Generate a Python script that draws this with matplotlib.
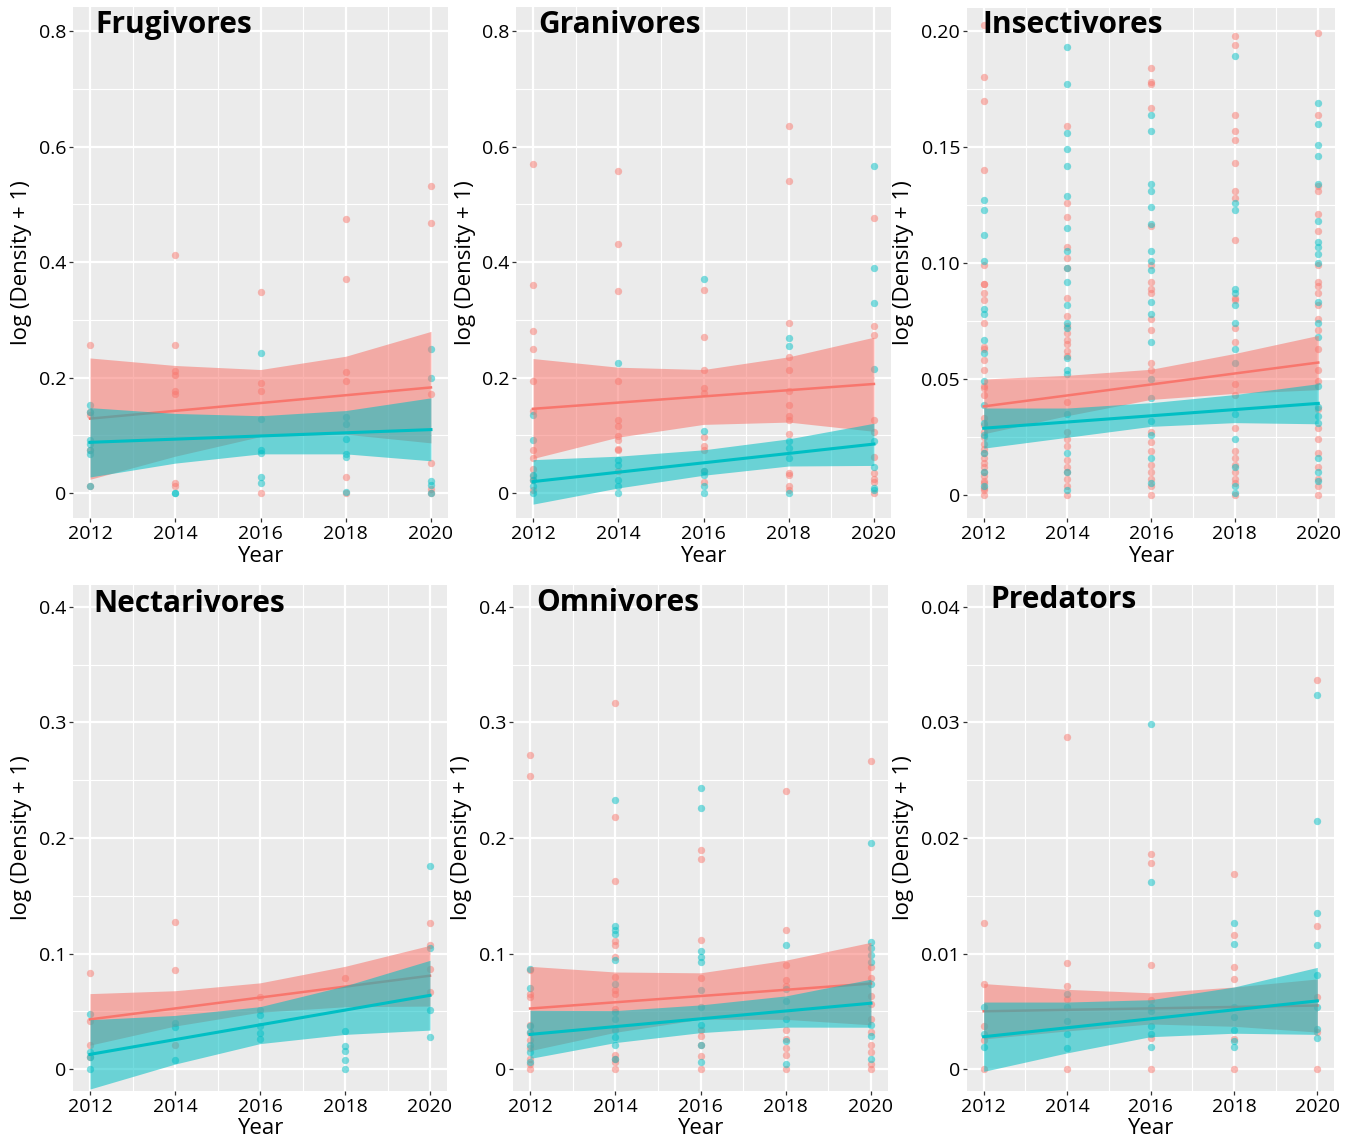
import matplotlib
matplotlib.use('Agg')
import matplotlib.pyplot as plt

plt.rcParams['font.family'] = ['Open Sans', 'DejaVu Sans']

RED = '#F8766D'
CYAN = '#00BFC4'
years = [2012, 2014, 2016, 2018, 2020]

titles = ['Frugivores', 'Granivores', 'Insectivores',
          'Nectarivores', 'Omnivores', 'Predators']

# observed points, per panel: {year: values}
fru_red = {2012: [0.256, 0.14, 0.135, 0.075, 0.012],
           2014: [0.413, 0.257, 0.212, 0.204, 0.177, 0.171, 0.018, 0.013],
           2016: [0.349, 0.19, 0.177, 0.0],
           2018: [0.474, 0.371, 0.209, 0.195, 0.028, 0.0],
           2020: [0.532, 0.468, 0.171, 0.052, 0.008, 0.0]}
fru_cyan = {2012: [0.152, 0.14, 0.092, 0.085, 0.075, 0.068, 0.012],
            2014: [0.0, 0.0],
            2016: [0.243, 0.129, 0.074, 0.07, 0.028, 0.018],
            2018: [0.132, 0.119, 0.094, 0.068, 0.063, 0.002],
            2020: [0.25, 0.2, 0.021, 0.014, 0.0]}

gra_red = {2012: [0.569, 0.36, 0.28, 0.25, 0.194, 0.143, 0.074, 0.061, 0.042, 0.03, 0.023, 0.006],
           2014: [0.558, 0.431, 0.35, 0.194, 0.127, 0.116, 0.099, 0.092, 0.077, 0.074, 0.038],
           2016: [0.352, 0.27, 0.214, 0.182, 0.173, 0.097, 0.082, 0.075, 0.038, 0.019],
           2018: [0.635, 0.54, 0.294, 0.236, 0.214, 0.176, 0.152, 0.133, 0.126, 0.102, 0.035, 0.031, 0.013, 0.006],
           2020: [0.477, 0.289, 0.274, 0.127, 0.106, 0.063, 0.035, 0.025, 0.019, 0.0]}
gra_cyan = {2012: [0.135, 0.092, 0.031, 0.023, 0.013, 0.001],
            2014: [0.226, 0.057, 0.048, 0.022, 0.013, 0.0],
            2016: [0.37, 0.107, 0.038, 0.031, 0.013, 0.0],
            2018: [0.269, 0.255, 0.091, 0.079, 0.06, 0.0],
            2020: [0.567, 0.389, 0.33, 0.215, 0.091, 0.045, 0.009, 0.005]}

ins_red = {2012: [0.2025, 0.18, 0.17, 0.14, 0.099, 0.091, 0.091, 0.087, 0.084, 0.074, 0.064, 0.063,
                  0.058, 0.054, 0.047, 0.046, 0.043, 0.033, 0.03, 0.027, 0.025, 0.022, 0.02, 0.018,
                  0.016, 0.014, 0.012, 0.01, 0.008, 0.006, 0.005, 0.003, 0.002, 0.0],
           2014: [0.159, 0.126, 0.12, 0.107, 0.102, 0.098, 0.085, 0.077, 0.073, 0.07, 0.067, 0.065,
                  0.062, 0.06, 0.04, 0.027, 0.024, 0.021, 0.015, 0.012, 0.01, 0.007, 0.004, 0.0],
           2016: [0.184, 0.178, 0.177, 0.167, 0.116, 0.099, 0.092, 0.089, 0.087, 0.076, 0.071, 0.057,
                  0.054, 0.027, 0.023, 0.019, 0.013, 0.01, 0.007, 0.004, 0.0],
           2018: [0.198, 0.194, 0.164, 0.157, 0.153, 0.143, 0.131, 0.128, 0.11, 0.085, 0.084, 0.072,
                  0.066, 0.048, 0.043, 0.029, 0.019, 0.016, 0.013, 0.01, 0.007, 0.005, 0.0],
           2020: [0.199, 0.164, 0.133, 0.131, 0.121, 0.114, 0.099, 0.092, 0.09, 0.087, 0.082, 0.076,
                  0.071, 0.063, 0.054, 0.049, 0.037, 0.029, 0.024, 0.018, 0.012, 0.007, 0.004, 0.0]}
ins_cyan = {2012: [0.127, 0.123, 0.112, 0.101, 0.08, 0.078, 0.067, 0.061, 0.049, 0.039, 0.031,
                   0.026, 0.018, 0.01, 0.004],
            2014: [0.193, 0.177, 0.156, 0.149, 0.142, 0.129, 0.115, 0.105, 0.098, 0.092, 0.082,
                   0.074, 0.072, 0.059, 0.054, 0.052, 0.035, 0.018, 0.01, 0.002],
            2016: [0.164, 0.157, 0.134, 0.131, 0.124, 0.117, 0.105, 0.101, 0.097, 0.083, 0.078,
                   0.066, 0.05, 0.042, 0.032, 0.026, 0.016, 0.005],
            2018: [0.189, 0.126, 0.123, 0.089, 0.087, 0.082, 0.074, 0.063, 0.057, 0.035, 0.024,
                   0.012, 0.004, 0.001],
            2020: [0.169, 0.16, 0.151, 0.146, 0.134, 0.118, 0.109, 0.107, 0.104, 0.1, 0.083, 0.074,
                   0.068, 0.047, 0.038, 0.034, 0.031, 0.016, 0.01, 0.006]}

nec_red = {2012: [0.083, 0.042, 0.021, 0.01],
           2014: [0.127, 0.086, 0.021],
           2016: [0.062],
           2018: [0.079],
           2020: [0.126, 0.107, 0.087, 0.067]}
nec_cyan = {2012: [0.048, 0.015, 0.01, 0.0],
            2014: [0.04, 0.036, 0.008],
            2016: [0.051, 0.047, 0.037, 0.031, 0.026],
            2018: [0.033, 0.02, 0.016, 0.008, 0.0],
            2020: [0.176, 0.105, 0.051, 0.028]}

omn_red = {2012: [0.272, 0.254, 0.086, 0.065, 0.062, 0.038, 0.031, 0.025, 0.018, 0.009, 0.004, 0.0],
           2014: [0.317, 0.218, 0.163, 0.111, 0.107, 0.097, 0.08, 0.068, 0.065, 0.052, 0.012, 0.009,
                  0.006, 0.0],
           2016: [0.19, 0.182, 0.112, 0.079, 0.034, 0.029, 0.021, 0.011, 0.0],
           2018: [0.241, 0.12, 0.09, 0.077, 0.072, 0.034, 0.026, 0.018, 0.012, 0.0],
           2020: [0.267, 0.088, 0.079, 0.063, 0.056, 0.043, 0.032, 0.021, 0.015, 0.004, 0.0]}
omn_cyan = {2012: [0.087, 0.07, 0.037, 0.032, 0.021, 0.015, 0.006],
            2014: [0.233, 0.124, 0.12, 0.117, 0.094, 0.074, 0.049, 0.043, 0.034, 0.028, 0.021, 0.009],
            2016: [0.243, 0.226, 0.102, 0.097, 0.093, 0.068, 0.054, 0.038, 0.021, 0.006],
            2018: [0.107, 0.069, 0.059, 0.043, 0.024, 0.004],
            2020: [0.196, 0.11, 0.105, 0.099, 0.093, 0.074, 0.038, 0.029, 0.009]}

pre_red = {2012: [0.0126, 0.0074, 0.0037, 0.0025, 0.0],
           2014: [0.0287, 0.0092, 0.0072, 0.0061, 0.0],
           2016: [0.0186, 0.0178, 0.009, 0.006, 0.0027, 0.0],
           2018: [0.0169, 0.0116, 0.0088, 0.0078, 0.0026, 0.0],
           2020: [0.0337, 0.0124, 0.0062, 0.0032, 0.0]}
pre_cyan = {2012: [0.0054, 0.003, 0.0019],
            2014: [0.0065, 0.0054, 0.0042, 0.003, 0.0018],
            2016: [0.0299, 0.0162, 0.0054, 0.005, 0.0037, 0.003, 0.0019],
            2018: [0.0126, 0.0108, 0.0054, 0.0045, 0.0034, 0.0024, 0.0019],
            2020: [0.0324, 0.0215, 0.0135, 0.0107, 0.0081, 0.0054, 0.0035, 0.0027]}

# fitted lines (value at 2012, 2020) and confidence bands at the five years
fit_red = [(0.129, 0.183), (0.146, 0.189), (0.0382, 0.0571),
           (0.043, 0.0808), (0.0524, 0.074), (0.005, 0.0055)]
fit_cyan = [(0.088, 0.11), (0.02, 0.085), (0.0288, 0.0395),
            (0.0127, 0.0638), (0.03, 0.057), (0.0028, 0.0059)]
band_red_hi = [[0.234, 0.221, 0.214, 0.237, 0.28],
               [0.233, 0.218, 0.214, 0.236, 0.27],
               [0.05, 0.0516, 0.0542, 0.061, 0.0688],
               [0.0653, 0.0678, 0.0746, 0.0889, 0.1071],
               [0.0889, 0.084, 0.0833, 0.0942, 0.1097],
               [0.0074, 0.0069, 0.0066, 0.0071, 0.0078]]
band_red_lo = [[0.024, 0.064, 0.098, 0.102, 0.087],
               [0.06, 0.097, 0.119, 0.123, 0.107],
               [0.0264, 0.0342, 0.0412, 0.0438, 0.0454],
               [0.0207, 0.0372, 0.0492, 0.0539, 0.0545],
               [0.0159, 0.0318, 0.0431, 0.043, 0.0383],
               [0.0026, 0.0033, 0.0039, 0.0037, 0.0032]]
band_cyan_hi = [[0.148, 0.138, 0.134, 0.143, 0.165],
                [0.058, 0.064, 0.075, 0.094, 0.121],
                [0.0375, 0.0375, 0.0398, 0.0433, 0.048],
                [0.0427, 0.0464, 0.054, 0.072, 0.0941],
                [0.0508, 0.0506, 0.0555, 0.0633, 0.0778],
                [0.0058, 0.0058, 0.006, 0.0071, 0.0088]]
band_cyan_lo = [[0.028, 0.052, 0.068, 0.068, 0.056],
                [-0.019, 0.009, 0.031, 0.047, 0.048],
                [0.0202, 0.0249, 0.0296, 0.0312, 0.0307],
                [-0.0173, 0.0043, 0.022, 0.03, 0.0337],
                [0.0092, 0.0229, 0.0315, 0.0363, 0.0362],
                [-0.0002, 0.0014, 0.0028, 0.0031, 0.003]]

points_red = [fru_red, gra_red, ins_red, nec_red, omn_red, pre_red]
points_cyan = [fru_cyan, gra_cyan, ins_cyan, nec_cyan, omn_cyan, pre_cyan]

y_ticks = [[0, 0.2, 0.4, 0.6, 0.8], [0, 0.2, 0.4, 0.6, 0.8], [0, 0.05, 0.10, 0.15, 0.20],
           [0, 0.1, 0.2, 0.3, 0.4], [0, 0.1, 0.2, 0.3, 0.4], [0, 0.01, 0.02, 0.03, 0.04]]
y_labels = [['0', '0.2', '0.4', '0.6', '0.8'], ['0', '0.2', '0.4', '0.6', '0.8'],
            ['0', '0.05', '0.10', '0.15', '0.20'], ['0', '0.1', '0.2', '0.3', '0.4'],
            ['0', '0.1', '0.2', '0.3', '0.4'], ['0', '0.01', '0.02', '0.03', '0.04']]
y_lims = [(-0.043, 0.8415), (-0.043, 0.8415), (-0.0099, 0.2099),
          (-0.019, 0.419), (-0.019, 0.419), (-0.0019, 0.0419)]

# panel boxes in pixels: left, top, right, bottom
boxes = [(73, 7, 448, 518), (516, 7, 891, 518), (967, 8, 1335, 518),
         (73, 585, 447, 1091), (513, 585, 888, 1091), (967, 585, 1334, 1091)]
title_pos = [(95, 25), (538, 25), (982, 25), (93, 604), (536, 603), (990, 600)]
ylab_x = [22, 466, 904, 22, 462, 904]

W, H = 1354, 1141
fig = plt.figure(figsize=(W / 100, H / 100), dpi=100)

for i in range(6):
    l, t, r, b = boxes[i]
    ax = fig.add_axes([l / W, 1 - b / H, (r - l) / W, (b - t) / H])
    ax.set_facecolor('#EBEBEB')
    for s in ax.spines.values():
        s.set_visible(False)
    ax.set_xlim(2011.6, 2020.4)
    ax.set_ylim(*y_lims[i])
    ax.set_xticks(years)
    ax.set_xticklabels([str(y) for y in years], fontsize=14, color='black')
    ax.set_xticks([2013, 2015, 2017, 2019], minor=True)
    yt = y_ticks[i]
    ax.set_yticks(yt)
    ax.set_yticklabels(y_labels[i], fontsize=14, color='black')
    ax.set_yticks([(yt[k] + yt[k + 1]) / 2 for k in range(4)], minor=True)
    ax.grid(which='major', color='white', lw=1.6)
    ax.grid(which='minor', color='white', lw=0.8)
    ax.set_axisbelow(True)
    ax.tick_params(which='major', length=3, width=0.9, color='#333333', pad=2)
    ax.tick_params(which='minor', length=0)

    for pts, col in ((points_red[i], RED), (points_cyan[i], CYAN)):
        xs, ys = [], []
        for yr, vals in pts.items():
            xs += [yr] * len(vals)
            ys += vals
        ax.scatter(xs, ys, s=28, color=col, alpha=0.5, lw=0, zorder=2)

    ax.fill_between(years, band_red_lo[i], band_red_hi[i], color=RED, alpha=0.55, lw=0, zorder=3)
    ax.plot([2012, 2020], fit_red[i], color=RED, lw=1.8, zorder=3)
    ax.fill_between(years, band_cyan_lo[i], band_cyan_hi[i], color=CYAN, alpha=0.55, lw=0, zorder=4)
    ax.plot([2012, 2020], fit_cyan[i], color=CYAN, lw=2.2, zorder=4)

    tx, ty = title_pos[i]
    fig.text(tx / W, 1 - ty / H, titles[i], fontsize=21.5, fontweight='bold', va='center', ha='left')
    fig.text((l + r) / 2 / W, 1 - (b + 38) / H, 'Year', fontsize=16, ha='center', va='center')
    fig.text(ylab_x[i] / W, 1 - (t + b) / 2 / H, 'log (Density + 1)', fontsize=16,
             rotation=90, ha='center', va='center')

plt.savefig('out.png', dpi=100)
